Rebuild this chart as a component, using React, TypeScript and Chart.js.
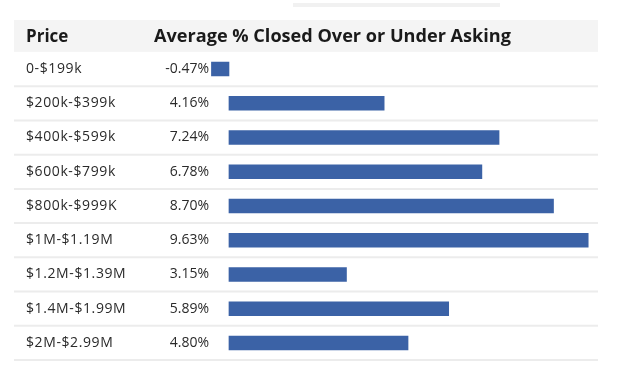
import React, { useEffect, useRef } from "react";
import { Chart, registerables } from "chart.js";

Chart.register(...registerables);

const categories = [
  "0-$199k",
  "$200k-$399k",
  "$400k-$599k",
  "$600k-$799k",
  "$800k-$999K",
  "$1M-$1.19M",
  "$1.2M-$1.39M",
  "$1.4M-$1.99M",
  "$2M-$2.99M",
];
const values = [-0.47, 4.16, 7.24, 6.78, 8.7, 9.63, 3.15, 5.89, 4.8];
const headerPrice = "Price";
const headerValue = "Average % Closed Over or Under Asking";

const FONT = "'Open Sans', 'DejaVu Sans', sans-serif";

const tablePlugin = {
  id: "tablePlugin",
  beforeDraw(chart: any) {
    const ctx = chart.ctx;
    const yScale = chart.scales.y;
    const n = categories.length;
    const first = yScale.getPixelForValue(0);
    const pitch = n > 1 ? (yScale.getPixelForValue(n - 1) - first) / (n - 1) : 34;
    ctx.save();
    ctx.fillStyle = "#ffffff";
    ctx.fillRect(0, 0, chart.width, chart.height);
    // faint strip at top
    ctx.fillStyle = "#f1f1f1";
    ctx.fillRect(293, 3, 207, 4);
    // header band
    const headerBottom = first - pitch / 2;
    ctx.fillStyle = "#f4f4f4";
    ctx.fillRect(14, 20, 584, headerBottom - 20);
    // header text
    ctx.fillStyle = "#1a1a1a";
    ctx.textBaseline = "middle";
    ctx.textAlign = "left";
    const hy = (20 + headerBottom) / 2 + 1;
    ctx.font = `bold 17px ${FONT}`;
    ctx.fillText(headerPrice, 26, hy);
    // fit header value text to width
    const target = 357;
    let size = 15;
    ctx.font = `bold ${size}px ${FONT}`;
    const w = ctx.measureText(headerValue).width;
    size = (size * target) / w;
    ctx.font = `bold ${size.toFixed(2)}px ${FONT}`;
    ctx.fillText(headerValue, 154, hy);
    // separators
    ctx.strokeStyle = "#ececec";
    ctx.lineWidth = 2;
    for (let i = 0; i < n; i++) {
      const y = yScale.getPixelForValue(i) + pitch / 2;
      ctx.beginPath();
      ctx.moveTo(14, y);
      ctx.lineTo(598, y);
      ctx.stroke();
    }
    ctx.restore();
  },
  afterDatasetsDraw(chart: any) {
    const ctx = chart.ctx;
    const yScale = chart.scales.y;
    ctx.save();
    ctx.fillStyle = "#2a2a2a";
    ctx.textBaseline = "middle";
    for (let i = 0; i < categories.length; i++) {
      const y = yScale.getPixelForValue(i);
      ctx.font = `14px ${FONT}`;
      (ctx as any).letterSpacing = "0.6px";
      ctx.textAlign = "left";
      ctx.fillText(categories[i], 26, y);
      ctx.font = `14px ${FONT}`;
      (ctx as any).letterSpacing = "0px";
      ctx.textAlign = "right";
      ctx.fillText(values[i].toFixed(2) + "%", 209, y);
    }
    ctx.restore();
  },
};

export default function App() {
  const ref = useRef<HTMLCanvasElement>(null);
  useEffect(() => {
    if (!ref.current) return;
    const chart = new Chart(ref.current, {
      type: "bar",
      data: {
        labels: categories,
        datasets: [
          {
            data: values,
            backgroundColor: "#3b62a6",
            barThickness: 14,
          },
        ],
      },
      options: {
        indexAxis: "y",
        animation: false,
        responsive: false,
        layout: { padding: { left: 206.6, right: 25, top: 51.9, bottom: 382 - 360.1 } },
        plugins: { legend: { display: false }, tooltip: { enabled: false } },
        scales: {
          x: { display: false, min: -0.6, max: 10.0 },
          y: { display: false, offset: true },
        },
      },
      plugins: [tablePlugin],
    });
    return () => chart.destroy();
  }, []);
  return (
    <div style={{ position: "fixed", left: 0, top: 0, width: 627, height: 382, background: "#fff" }}>
      <canvas ref={ref} width={627} height={382} style={{ width: 627, height: 382 }} />
    </div>
  );
}
